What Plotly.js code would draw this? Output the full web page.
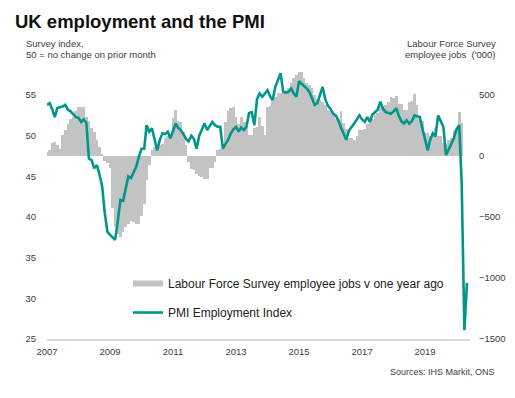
<!DOCTYPE html>
<html>
<head>
<meta charset="utf-8">
<script src="https://cdn.plot.ly/plotly-3.0.1.min.js"></script>
<style>
html,body{margin:0;padding:0;background:#fff;}
#chart{width:515px;height:398px;}
</style>
</head>
<body>
<div id="chart"></div>
<script>
// First month of both series: January 2007
const startYear = 2007;
const startMonth = 1;

// PMI Employment Index (monthly, Jan 2007 - May 2020), left axis
const pmiEmployment = [
  53.8, 54.0, 53.3, 52.3, 53.4, 53.5, 53.6, 53.8, 53.2, 53.0, 52.6, 52.3,
  52.2, 51.7, 52.0, 51.6, 47.2, 47.0, 46.0, 46.4, 45.2, 43.8, 40.5, 38.2,
  37.8, 37.5, 37.2, 39.5, 42.1, 42.0, 43.3, 45.0, 44.8, 45.4, 46.2, 47.4,
  48.4, 48.4, 51.3, 50.5, 50.9, 49.6, 48.2, 49.5, 50.3, 50.2, 50.5, 49.7,
  50.6, 51.5, 51.0, 50.7, 50.2, 49.6, 49.3, 50.0, 49.6, 48.4, 50.0, 50.7,
  51.5, 50.7, 51.2, 51.7, 51.3, 51.1, 51.1, 48.4, 49.0, 49.5, 50.3, 50.8,
  51.1, 50.5, 51.0, 50.7, 51.1, 52.8, 52.9, 51.3, 54.5, 55.2, 54.8, 55.2,
  55.6, 54.8, 54.4, 56.0, 56.8, 57.7, 55.4, 55.3, 55.4, 55.8, 55.2, 54.8,
  56.7, 56.4, 56.2, 55.8, 55.4, 54.6, 53.8, 54.0, 55.0, 56.0, 54.5, 53.7,
  53.3, 52.7, 52.5, 51.9, 51.0, 50.2, 49.5, 50.6, 51.0, 51.5, 52.0, 52.5,
  52.0, 51.7, 52.3, 51.7, 52.6, 52.9, 53.2, 54.2, 53.3, 52.9, 52.8, 52.7,
  53.0, 53.4, 52.5, 51.8, 51.5, 51.9, 51.5, 51.8, 52.5, 52.4, 52.3, 50.9,
  49.5, 48.2, 49.5, 50.3, 49.9, 52.5, 51.8, 51.1, 47.6, 48.4, 49.0, 49.7,
  50.8, 51.3, 44.0, 26.1, 31.9
];

// Labour Force Survey employee jobs, change v one year ago ('000), right axis
const lfsJobsChange = [
  30, 50, 110, 115, 90, 60, 175, 215, 260, 300, 320, 370,
  400, 400, 400, 320, 290, 230, 200, 130, 70, 20, -40, -60,
  -100, -430, -580, -640, -660, -620, -580, -560, -530, -540, -560, -560,
  -490, -390, -200, -70, 50, 75, 90, 90, 95, 150, 160, 170,
  310, 380, 285, 280, 200, 90, -50, -110, -115, -150, -165, -170,
  -190, -185, -100, -100, -50, 50, 60, 55, 280, 370, 390, 405,
  320, 260, 320, 280, 280, 175, 170, 230, 240, 320, 250, 170,
  400, 410, 460, 480, 515, 520, 530, 540, 560, 600, 640, 665,
  690, 690, 640, 600, 580, 560, 500, 470, 460, 440, 420, 380,
  370, 350, 300, 290, 370, 270, 220, 150, 145, 130, 160, 210,
  215, 220, 260, 300, 300, 340, 355, 400, 410, 420, 440, 480,
  475, 490, 430, 430, 380, 380, 440, 450, 510, 420, 300, 290,
  190, 185, 160, 160, 230, 160, 160, 110, 100, 130, 150, 210,
  220, 360, 270
];

// Axis tick labels
const leftTicks = [25, 30, 35, 40, 45, 50, 55];
const rightTicks = [-1500, -1000, -500, 0, 500];

// Text
const chartTitle = 'UK employment and the PMI';
const leftAxisNote = ['Survey index,', '50 = no change on prior month'];
const rightAxisNote = ['Labour Force Survey', "employee jobs  ('000)"];
const sourceNote = 'Sources: IHS Markit, ONS';
const barName = 'Labour Force Survey employee jobs v one year ago';
const lineName = 'PMI Employment Index';

function monthDate(i) {
  const m0 = (startMonth - 1) + i;
  const y = startYear + Math.floor(m0 / 12);
  const m = (m0 % 12) + 1;
  return y + '-' + (m < 10 ? '0' + m : m) + '-01';
}
const pmiDates = pmiEmployment.map((_, i) => monthDate(i));
const lfsDates = lfsJobsChange.map((_, i) => monthDate(i));

const TEAL = '#00968a';
const GREY = '#c3c3c3';
const FONT = 'Liberation Sans, Arial, sans-serif';
const TXT = '#404040';

// Bars on the base (right-side) axis so the PMI line, on the overlaying
// left-side axis, is drawn on top of them.
const traces = [
  {
    type: 'bar', x: lfsDates, y: lfsJobsChange, yaxis: 'y',
    marker: {color: GREY, line: {width: 0}},
    width: 31 * 86400000,
    showlegend: false, hoverinfo: 'skip'
  },
  {
    type: 'scatter', mode: 'lines', x: [null], y: [null], yaxis: 'y',
    name: barName, legendgroup: 'a',
    line: {color: GREY, width: 6}
  },
  {
    type: 'scatter', mode: 'lines', x: pmiDates, y: pmiEmployment, yaxis: 'y2',
    name: lineName, legendgroup: 'b',
    line: {color: TEAL, width: 2.6}
  }
];

const L = 47, R = 470, T = 65, B = 339;
const W = 515, H = 398;
function px(xp) { return (xp - L) / (R - L); }
function py(yp) { return (B - yp) / (B - T); }

function note(text, xp, yp, anchor, size) {
  return {
    text: text, xref: 'paper', yref: 'paper', x: px(xp), y: py(yp),
    xanchor: anchor, yanchor: 'middle', showarrow: false,
    font: {family: FONT, size: size, color: TXT}
  };
}

const layout = {
  width: W, height: H,
  margin: {l: L, r: W - R, t: T, b: H - B, pad: 0},
  paper_bgcolor: '#ffffff', plot_bgcolor: '#ffffff',
  font: {family: FONT, color: TXT, size: 9.5},
  title: {
    text: chartTitle, x: 15 / W, xanchor: 'left', xref: 'container',
    y: 1 - 22 / H, yanchor: 'middle', yref: 'container',
    font: {family: FONT, size: 18.5, weight: 700, color: '#111111'}
  },
  bargap: 0,
  showlegend: true,
  legend: {
    x: px(128), y: py(269), xanchor: 'left', yanchor: 'top',
    bgcolor: 'rgba(0,0,0,0)', borderwidth: 0,
    traceorder: 'grouped', tracegroupgap: 10,
    font: {family: FONT, size: 12, color: '#222222'}
  },
  xaxis: {
    type: 'date',
    range: ['2007-01-01', '2020-06-05'],
    tick0: '2007-01-01', dtick: 'M24', tickformat: '%Y',
    showgrid: false, zeroline: false,
    showline: true, linecolor: '#d9d9d9', linewidth: 2,
    ticks: 'outside', ticklen: 3, tickcolor: 'rgba(0,0,0,0)',
    tickfont: {family: FONT, size: 9.5, color: TXT}
  },
  yaxis: {
    side: 'right',
    range: [-1500, 746],
    tickvals: rightTicks,
    showgrid: false, zeroline: false, showline: false,
    ticks: 'outside', ticklen: 6, tickcolor: 'rgba(0,0,0,0)',
    tickfont: {family: FONT, size: 9.5, color: TXT}
  },
  yaxis2: {
    overlaying: 'y', side: 'left',
    range: [25, 58.7],
    tickvals: leftTicks,
    showgrid: false, zeroline: false, showline: false,
    ticks: 'outside', ticklen: 8, tickcolor: 'rgba(0,0,0,0)',
    tickfont: {family: FONT, size: 9.5, color: TXT}
  },
  annotations: [
    note(leftAxisNote[0], 24, 44, 'left', 9.5),
    note(leftAxisNote[1], 24, 55, 'left', 9.5),
    note(rightAxisNote[0], 498, 44, 'right', 9.5),
    note(rightAxisNote[1], 498, 55, 'right', 9.5),
    note(sourceNote, 497, 372, 'right', 9)
  ]
};

Plotly.newPlot('chart', traces, layout, {staticPlot: true, displayModeBar: false});
</script>
</body>
</html>
